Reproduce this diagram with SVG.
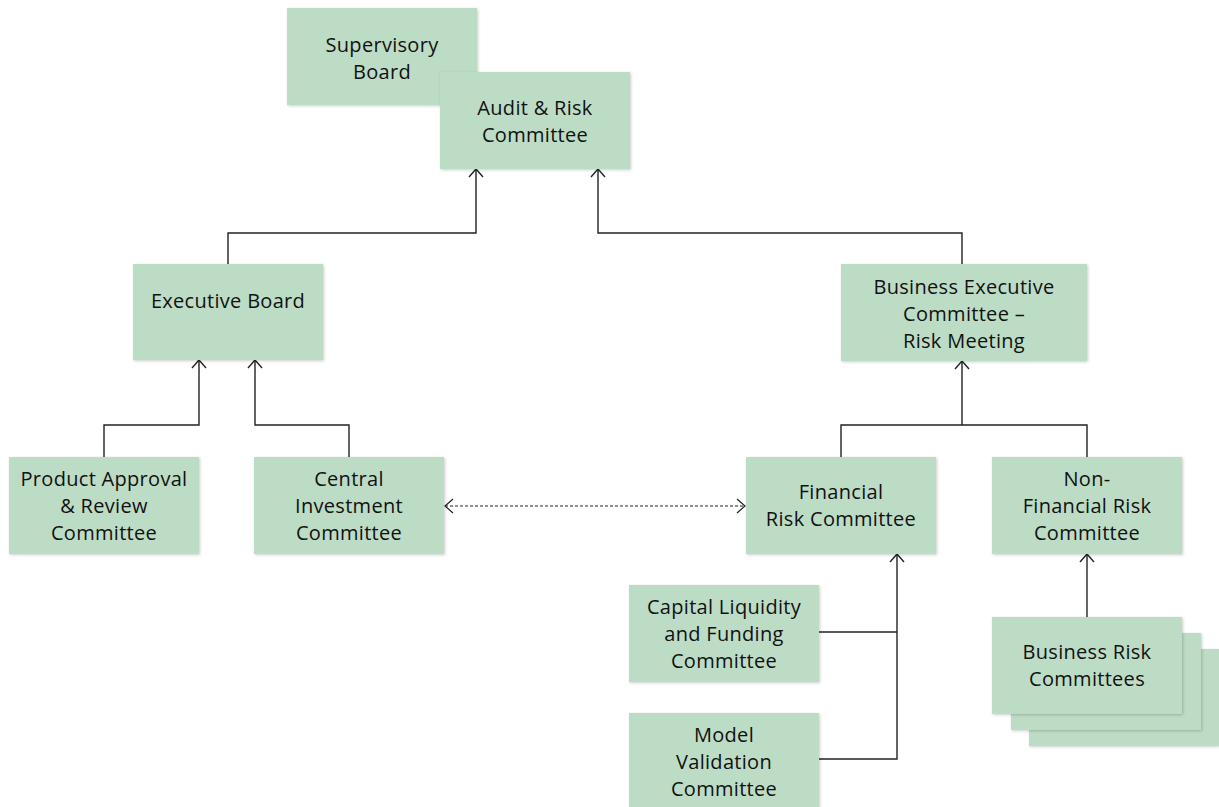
<svg xmlns="http://www.w3.org/2000/svg" width="1219" height="807" viewBox="0 0 1219 807">
<style>
.box{fill:#bddcc5;filter:url(#sh)}
.t{font-family:"Open Sans",Lato,"Liberation Sans",sans-serif;font-size:20px;letter-spacing:0.3px;fill:#111;text-anchor:middle}
.c{fill:none;stroke:#222;stroke-width:1.4}
.d{fill:none;stroke:#222;stroke-width:1.2;stroke-dasharray:3,2}
</style>
<defs>
<filter id="sh" x="-10%" y="-10%" width="125%" height="125%">
<feDropShadow dx="1" dy="1" stdDeviation="1.5" flood-color="#000" flood-opacity="0.2"/>
</filter>
<marker id="a" viewBox="0 0 16 16" refX="15" refY="8" markerWidth="16" markerHeight="16" markerUnits="userSpaceOnUse" orient="auto-start-reverse">
<path d="M7,1 L15,8 L7,15" fill="none" stroke="#222" stroke-width="1.4"/>
</marker>
<marker id="h" viewBox="0 0 16 16" refX="15" refY="8" markerWidth="16" markerHeight="16" markerUnits="userSpaceOnUse" orient="auto-start-reverse">
<path d="M7,1 L15,8 L7,15" fill="none" stroke="#222" stroke-width="1.2"/>
</marker>
</defs>
<rect width="1219" height="807" fill="#fff"/>
<g id="connectors">
<path class="c" d="M228,264 V233 H476 V169" marker-end="url(#a)"/>
<path class="c" d="M962,264 V233 H598 V169" marker-end="url(#a)"/>
<path class="c" d="M104,457 V425 H199 V360" marker-end="url(#a)"/>
<path class="c" d="M349,457 V425 H255 V360" marker-end="url(#a)"/>
<path class="c" d="M841,457 V425 H1087 V457"/>
<path class="c" d="M962,425 V361" marker-end="url(#a)"/>
<path class="d" d="M445,506 H745" marker-start="url(#h)" marker-end="url(#h)"/>
<path class="c" d="M819,632 H897"/>
<path class="c" d="M819,759 H897 V554" marker-end="url(#a)"/>
<path class="c" d="M1087,617 V554" marker-end="url(#a)"/>
</g>
<g id="supervisory-board"><rect class="box" x="287" y="8" width="190" height="97"/><text class="t" x="382" y="52">Supervisory</text><text class="t" x="382" y="79">Board</text></g>
<g id="audit-risk"><rect class="box" x="440" y="72" width="190" height="97"/><text class="t" x="535" y="115">Audit &amp; Risk</text><text class="t" x="535" y="142">Committee</text></g>
<g id="executive-board"><rect class="box" x="133" y="264" width="190" height="96"/><text class="t" x="228" y="308">Executive Board</text></g>
<g id="business-executive"><rect class="box" x="841" y="264" width="246" height="97"/><text class="t" x="964" y="294">Business Executive</text><text class="t" x="964" y="321">Committee –</text><text class="t" x="964" y="348">Risk Meeting</text></g>
<g id="product-approval"><rect class="box" x="9" y="457" width="190" height="97"/><text class="t" x="104" y="486">Product Approval</text><text class="t" x="104" y="513">&amp; Review</text><text class="t" x="104" y="540">Committee</text></g>
<g id="central-investment"><rect class="box" x="254" y="457" width="190" height="97"/><text class="t" x="349" y="486">Central</text><text class="t" x="349" y="513">Investment</text><text class="t" x="349" y="540">Committee</text></g>
<g id="financial-risk"><rect class="box" x="746" y="457" width="190" height="97"/><text class="t" x="841" y="499">Financial</text><text class="t" x="841" y="526">Risk Committee</text></g>
<g id="non-financial-risk"><rect class="box" x="992" y="457" width="190" height="97"/><text class="t" x="1087" y="486">Non-</text><text class="t" x="1087" y="513">Financial Risk</text><text class="t" x="1087" y="540">Committee</text></g>
<g id="capital-liquidity"><rect class="box" x="629" y="585" width="190" height="97"/><text class="t" x="724" y="614">Capital Liquidity</text><text class="t" x="724" y="641">and Funding</text><text class="t" x="724" y="668">Committee</text></g>
<g id="model-validation"><rect class="box" x="629" y="713" width="190" height="97"/><text class="t" x="724" y="742">Model</text><text class="t" x="724" y="769">Validation</text><text class="t" x="724" y="796">Committee</text></g>
<g id="business-risk"><rect class="box" x="1029" y="649" width="190" height="97"/><rect class="box" x="1011" y="633" width="190" height="97"/><rect class="box" x="992" y="617" width="190" height="97"/><text class="t" x="1087" y="659">Business Risk</text><text class="t" x="1087" y="686">Committees</text></g>
</svg>
